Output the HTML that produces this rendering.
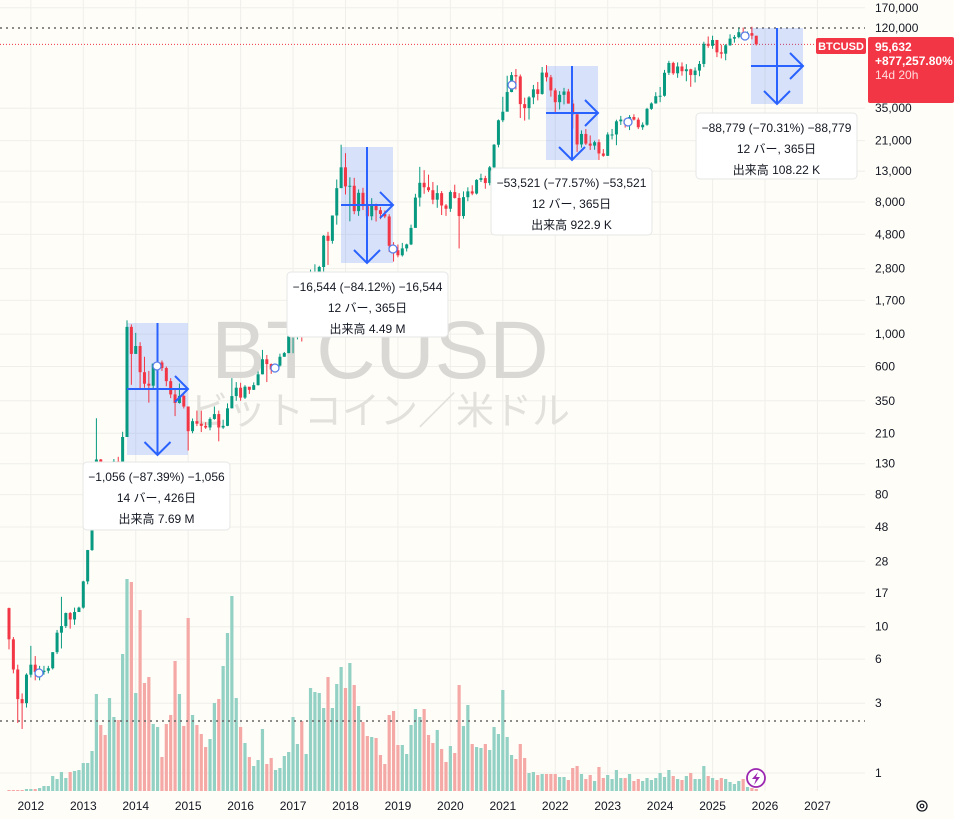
<!DOCTYPE html>
<html><head><meta charset="utf-8">
<style>
html,body{margin:0;padding:0;background:#fefdf8;}
#wrap{position:relative;width:954px;height:819px;overflow:hidden;font-family:"Liberation Sans","Noto Sans CJK JP",sans-serif;}
svg{position:absolute;left:0;top:0;}
</style></head>
<body>
<div id="wrap">
<svg id="chart" width="954" height="819"></svg>
</div>
<script>
// monthly bars from 2011-08 to 2025-11
const closes=[8.2,5.1,3.2,3.0,4.7,
5.5,4.9,4.9,5.0,5.2,6.7,9.1,10.1,12.4,11.2,12.6,13.5,
20.4,33.4,93,139,129,97,98,135,128,198,1120,732,
829,549,458,444,628,640,586,477,387,338,378,320,
217,254,244,236,230,263,284,230,236,311,377,430,
368,437,416,448,531,673,624,573,609,700,742,964,
965,1190,1080,1348,2300,2480,2875,4700,4338,6468,9946,13800,
10221,10326,6926,9240,7494,6390,7730,7030,6625,6370,4017,3742,
3457,3854,4102,5320,8574,10817,10085,9630,8293,9199,7569,7193,
9350,8523,6412,8629,9454,9137,11323,11645,10776,13797,19700,28949,
33114,45137,58918,57750,37332,35040,41461,47101,43790,61318,56950,46306,
38483,43193,45538,37644,31792,19784,23336,20050,19423,20495,17168,16547,
23139,23147,28478,29268,27220,30472,29230,25940,26962,34640,37724,42265,
42580,61131,71333,60637,67491,62678,64620,58970,63301,70215,96450,93429,
102400,84350,82548,94200,104600,107150,115760,108250,114050,109600,95632];
const opens=[13.4,8.2,5.1,3.2,3.0,
4.7,5.5,4.9,4.9,5.0,5.2,6.7,9.1,10.1,12.4,11.2,12.6,
13.5,20.4,33.4,93,139,129,97,98,135,128,198,1120,
732,829,549,458,444,628,640,586,477,387,338,378,
320,217,254,244,236,230,263,284,230,236,311,377,
430,368,437,416,448,531,673,624,573,609,700,742,
964,965,1190,1080,1348,2300,2480,2875,4700,4338,6468,9946,
13800,10221,10326,6926,9240,7494,6390,7730,7030,6625,6370,4017,
3742,3457,3854,4102,5320,8574,10817,10085,9630,8293,9199,7569,
7193,9350,8523,6412,8629,9454,9137,11323,11645,10776,13797,19700,
28949,33114,45137,58918,57750,37332,35040,41461,47101,43790,61318,56950,
46306,38483,43193,45538,37644,31792,19784,23336,20050,19423,20495,17168,
16547,23139,23147,28478,29268,27220,30472,29230,25940,26962,34640,37724,
42265,42580,61131,71333,60637,67491,62678,64620,58970,63301,70215,96450,
93429,102400,84350,82548,94200,104600,107150,115760,108250,114050,109600];
const highs=[13.5,8.5,5.5,3.5,4.8,
7.4,6.3,5.4,5.4,5.4,6.7,9.5,16,12.5,12.6,13.5,13.7,
20.6,33.5,95,266,140,130,110,140,145,215,1242,1165,
1020,880,700,560,630,680,660,600,500,420,460,385,
320,265,300,300,250,270,320,300,260,336,500,470,
465,448,428,468,555,780,720,630,612,735,755,975,
1150,1210,1350,1350,2760,3000,2930,4750,5000,6470,11400,19700,
17250,11800,11700,9750,10000,7750,8500,7800,7400,7000,6600,4250,
4100,4200,4150,5600,9100,13900,13200,12300,10950,10400,9500,7750,
9600,10500,9200,9450,10080,10400,11450,12480,12080,14100,19900,29300,
41900,58350,61800,64900,59500,41300,42300,50500,52900,67000,69000,59100,
47900,45800,48200,47450,40000,31900,24680,25200,22800,21000,21450,18400,
23950,25250,29200,31000,29800,31400,31800,30200,28000,35200,38400,45000,
48900,64000,73800,72700,71950,71950,70000,65100,66500,73600,99600,108300,
109600,102500,95000,95800,112000,110600,123200,124500,117000,126200,107500];
const lows=[7,4.8,2.2,2.0,2.8,
4.5,4.3,4.3,4.7,4.8,5.1,6.5,7.1,9.8,9.7,10.3,12.6,
13.3,19.5,33,50,85,85,65,90,105,120,205,450,
750,420,430,340,420,540,560,440,365,275,335,310,
160,210,235,214,225,220,260,185,225,235,310,350,
350,360,390,415,445,530,470,535,590,600,700,740,
740,920,890,1070,1350,2100,1830,2680,2970,4150,5600,10900,
9000,5900,6600,6430,7050,5750,6000,5880,6100,6200,3650,3130,
3350,3390,3670,4060,5350,7450,9100,9350,7730,7300,6520,6430,
6850,8450,3850,6150,8100,8900,9000,10950,9850,10400,13200,18900,
28100,33400,45000,47000,30000,28800,29300,37300,39600,43300,53250,42000,
32950,34300,37150,37600,25400,17600,18800,19600,18150,18200,15500,16300,
16500,21400,19550,26900,25800,24800,28850,25200,24900,26550,34100,37600,
38500,42000,59000,59200,56500,58400,53500,49000,52500,57900,66800,90500,
89200,78200,76600,74400,93400,98200,105100,107300,107300,103500,94000];
const volumes=[1,1,1,1,2,
2,2,3,5,5,15,12,19,13,19,20,21,
28,28,40,97,66,56,93,74,71,137,212,209,
98,181,108,114,67,64,34,67,76,130,97,65,
173,76,66,57,44,52,88,92,125,158,195,93,
64,48,34,25,31,62,27,33,21,23,35,39,
74,47,70,37,103,99,98,83,114,83,107,124,
103,128,106,85,69,55,54,53,36,27,76,80,
46,46,37,66,82,74,82,56,48,61,42,29,
45,38,106,65,86,47,44,43,47,41,64,57,
101,54,36,32,47,33,18,19,16,17,17,17,
17,14,14,11,23,25,17,12,16,10,24,13,
16,12,21,13,13,17,10,12,10,13,11,13,
18,14,21,15,12,11,15,18,12,12,25,15,
13,11,13,12,9,7,10,12,4,3,2];
const priceTicks=[170000,35000,21000,13000,8000,4800,2800,1700,1000,600,350,210,130,80,48,28,17,10,6,3,1];
const yearTicks=[2012,2013,2014,2015,2016,2017,2018,2019,2020,2021,2022,2023,2024,2025,2026,2027];

const NS="http://www.w3.org/2000/svg";
const svg=document.getElementById('chart');
const PLOT_R=865;
function xOf(i){return 9+i*4.37;}
function xYear(yr){return xOf(5+12*(yr-2012));}
function yOf(p){return 773-146.3*Math.log10(p);}
function yVol(v){return 791-v;}
function el(tag,attrs,parent){const e=document.createElementNS(NS,tag);for(const k in attrs)e.setAttribute(k,attrs[k]);(parent||svg).appendChild(e);return e;}
function fmt(n){return n.toLocaleString('en-US');}

// grid
const grid=el('g',{});


priceTicks.forEach(p=>{el('line',{x1:0,x2:PLOT_R,y1:yOf(p),y2:yOf(p),stroke:'#f0efea','stroke-width':1},grid);});
yearTicks.forEach(y=>{el('line',{x1:xYear(y),x2:xYear(y),y1:0,y2:791,stroke:'#f0efea','stroke-width':1},grid);});

// watermark
const wm=el('text',{x:380,y:378,'font-size':82,fill:'#d9d8d4','text-anchor':'middle','font-family':'Liberation Sans, sans-serif'});
wm.textContent='BTCUSD';


const wm2=el('text',{x:380,y:424,'font-size':38,fill:'#e2e1dc','text-anchor':'middle','font-family':'Liberation Sans, Noto Sans CJK JP, sans-serif'});
wm2.textContent='ビットコイン／米ドル';



// volume
const vg=el('g',{});


volumes.forEach((v,i)=>{
  const up=closes[i]>=opens[i];
  const r=el('rect',{x:xOf(i)-1.6,y:yVol(v),width:3.2,height:v,fill:up?'#92d1c4':'#f5a9a6'},vg);
  
  
});

// dotted lines
el('line',{x1:0,x2:PLOT_R,y1:721,y2:721,stroke:'#666','stroke-width':1.5,'stroke-dasharray':'2 4'});
el('line',{x1:0,x2:PLOT_R,y1:28,y2:28,stroke:'#666','stroke-width':1.5,'stroke-dasharray':'2 4'});
el('line',{x1:0,x2:PLOT_R,y1:yOf(95632),y2:yOf(95632),stroke:'#f23645','stroke-width':1,'stroke-dasharray':'1 2'});

// measure rectangles (behind candles)
const measures=[
 {x:127,y:323,w:61,h:132,box:[83,462,147,68],t:['−1,056 (−87.39%) −1,056','14 バー, 426日','出来高 7.69 M']},
 {x:341,y:147,w:52,h:116,box:[287,272,161,65],t:['−16,544 (−84.12%) −16,544','12 バー, 365日','出来高 4.49 M']},
 {x:546,y:66,w:52,h:94,box:[491,168,161,67],t:['−53,521 (−77.57%) −53,521','12 バー, 365日','出来高 922.9 K']},
 {x:751,y:28,w:52,h:76,box:[696,113,161,66],t:['−88,779 (−70.31%) −88,779','12 バー, 365日','出来高 108.22 K']}
];
measures.forEach((m,k)=>{
  const r=el('rect',{x:m.x,y:m.y,width:m.w,height:m.h,fill:'rgba(41,98,255,0.18)'});
  
  
});

// candles
const cg=el('g',{});


closes.forEach((c,i)=>{
  const o=opens[i],up=c>=o,col=up?'#089981':'#f23645',x=xOf(i);
  el('line',{x1:x,x2:x,y1:yOf(highs[i]),y2:yOf(lows[i]),stroke:col,'stroke-width':1},cg);
  const yt=yOf(Math.max(o,c)),yb=yOf(Math.min(o,c));
  const b=el('rect',{x:x-1.5,y:yt,width:3,height:Math.max(1,yb-yt),fill:col},cg);
  
  
});

// measure arrows and labels
measures.forEach((m,k)=>{
  const g=el('g',{stroke:'#2962ff','stroke-width':2,fill:'none'});
  
  
  const cx=m.x+m.w/2, cy=m.y+m.h/2;
  el('line',{x1:cx,x2:cx,y1:m.y,y2:m.y+m.h},g);
  el('polyline',{points:`${cx-13},${m.y+m.h-13} ${cx},${m.y+m.h} ${cx+13},${m.y+m.h-13}`},g);
  el('line',{x1:m.x,x2:m.x+m.w,y1:cy,y2:cy},g);
  el('polyline',{points:`${m.x+m.w-13},${cy-13} ${m.x+m.w},${cy} ${m.x+m.w-13},${cy+13}`},g);
  const [bx,by,bw,bh]=m.box;
  const bg=el('g',{});
  
  
  el('rect',{x:bx,y:by,width:bw,height:bh,rx:4,fill:'#ffffff',stroke:'#e6e6e6'},bg);
  m.t.forEach((s,j)=>{
    const t=el('text',{x:bx+bw/2,y:by+19+j*21,'font-size':12,fill:'#131722','text-anchor':'middle','font-family':'Liberation Sans, Noto Sans CJK JP, sans-serif'},bg);
    t.textContent=s;
  });
});

// markers
[[39,673],[157,366],[275,368],[393,249],[512,85],[628,122],[745,36]].forEach(p=>{
  const c=el('circle',{cx:p[0],cy:p[1],r:4,fill:'#fff',stroke:'#5b7fe8','stroke-width':1.3});
  
  
});

// price axis
const pa=el('g',{});


el('rect',{x:PLOT_R,y:0,width:89,height:819,fill:'#fefdf8'},pa);
priceTicks.forEach(p=>{
  const t=el('text',{x:875,y:yOf(p)+4,'font-size':12,fill:'#131722','font-family':'Liberation Sans, sans-serif'},pa);
  t.textContent=fmt(p);
});
const ptag=el('text',{x:875,y:32,'font-size':12,fill:'#131722'},pa);ptag.textContent='120,000';

// BTCUSD tag and price tag
const tg=el('g',{});


el('rect',{x:816,y:38,width:50,height:16,rx:2,fill:'#f23645'},tg);
let t=el('text',{x:841,y:50,'font-size':11,'font-weight':'bold',fill:'#fff','text-anchor':'middle'},tg);t.textContent='BTCUSD';
el('rect',{x:868,y:37,width:86,height:66,rx:2,fill:'#f23645'},tg);
t=el('text',{x:875,y:51,'font-size':12,'font-weight':'bold',fill:'#fff'},tg);t.textContent='95,632';
t=el('text',{x:875,y:65,'font-size':12,'font-weight':'bold',fill:'#fff'},tg);t.textContent='+877,257.80%';
t=el('text',{x:875,y:79,'font-size':12,fill:'#fdd'},tg);t.textContent='14d 20h';

// time axis
const ta=el('g',{});


yearTicks.forEach(y=>{
  const tt=el('text',{x:xYear(y),y:810,'font-size':12,fill:'#131722','text-anchor':'middle'},ta);
  tt.textContent=y;
});
// lightning icon
const li=el('g',{});


el('circle',{cx:756,cy:778,r:9,fill:'#fff',stroke:'#9c27b0','stroke-width':1.8},li);
el('path',{d:'M758 772 L752 779 L756 779 L754 785 L760 777 L756 777 Z',fill:'#9c27b0'},li);
// settings gear
const gear=el('g',{});


el('circle',{cx:922,cy:806,r:5,fill:'none',stroke:'#131722','stroke-width':1.3},gear);
el('circle',{cx:922,cy:806,r:1.8,fill:'none',stroke:'#131722','stroke-width':1.2},gear);
</script>
</body></html>
